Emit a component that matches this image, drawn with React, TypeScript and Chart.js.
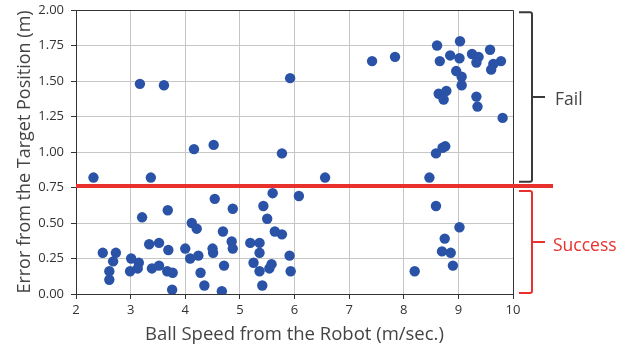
import React, { useEffect, useRef } from "react";
import { Chart, registerables } from "chart.js";

Chart.register(...registerables);

const speedValues: number[] = [
  3.17, 3.61, 4.16, 4.52, 5.77, 5.92,
  7.42, 7.84, 8.61, 9.03, 9.58, 8.66, 8.85, 9.02, 9.25, 9.37, 9.33, 9.64, 9.78, 9.60,
  8.96, 9.06, 9.06, 8.64, 8.78, 8.73, 9.33, 9.35, 9.81, 8.76, 8.71, 8.59,
  6.56, 8.47, 2.32, 3.37,
  6.08, 8.59, 9.02, 8.75, 8.70, 8.86, 8.90, 8.20, 5.77, 5.91, 5.93,
  5.60, 4.54, 5.43, 3.68, 4.87, 3.21, 5.50, 4.12, 4.21, 4.69, 5.64,
  3.34, 3.52, 4.85, 4.87, 5.19, 5.36, 5.36, 2.49, 2.73, 2.68, 2.61, 2.61,
  3.01, 2.99, 3.15, 3.13, 3.39, 3.52, 3.69, 3.67, 3.77, 3.76, 4.00, 4.09,
  4.24, 4.28, 4.35, 4.50, 4.51, 4.71, 4.67, 5.25, 5.36, 5.41, 5.54, 5.58,
];

const errorValues: number[] = [
  1.48, 1.47, 1.02, 1.05, 0.99, 1.52,
  1.64, 1.67, 1.75, 1.78, 1.72, 1.64, 1.68, 1.66, 1.69, 1.67, 1.63, 1.62, 1.64, 1.58,
  1.57, 1.53, 1.47, 1.41, 1.43, 1.37, 1.39, 1.32, 1.24, 1.04, 1.03, 0.99,
  0.82, 0.82, 0.82, 0.82,
  0.69, 0.62, 0.47, 0.39, 0.30, 0.29, 0.20, 0.16, 0.42, 0.27, 0.16,
  0.71, 0.67, 0.62, 0.59, 0.60, 0.54, 0.53, 0.50, 0.46, 0.44, 0.44,
  0.35, 0.36, 0.37, 0.32, 0.36, 0.36, 0.29, 0.29, 0.29, 0.23, 0.16, 0.10,
  0.25, 0.16, 0.22, 0.18, 0.18, 0.20, 0.31, 0.16, 0.15, 0.03, 0.32, 0.25,
  0.27, 0.15, 0.06, 0.32, 0.29, 0.20, 0.02, 0.22, 0.16, 0.06, 0.18, 0.21,
];

const thresholdValue = 0.76;
const failRange: [number, number] = [1.985, 0.79];
const successRange: [number, number] = [0.725, 0.007];
const failLabel = "Fail";
const successLabel = "Success";
const xTitle = "Ball Speed from the Robot (m/sec.)";
const yTitle = "Error from the Target Position (m)";

const FONT = "'Open Sans', 'Noto Sans', sans-serif";

const annotationPlugin = {
  id: "annotations",
  afterDraw(chart: any) {
    const { ctx, chartArea, scales } = chart;
    const y = scales.y;
    ctx.save();
    // top & right spines
    ctx.strokeStyle = "#333";
    ctx.lineWidth = 1;
    ctx.beginPath();
    ctx.moveTo(chartArea.left, chartArea.top + 0.5);
    ctx.lineTo(chartArea.right + 0.5, chartArea.top + 0.5);
    ctx.lineTo(chartArea.right + 0.5, chartArea.bottom);
    ctx.stroke();

    // threshold line
    const ty = y.getPixelForValue(thresholdValue);
    ctx.strokeStyle = "#e8302c";
    ctx.lineWidth = 4;
    ctx.beginPath();
    ctx.moveTo(chartArea.left, ty);
    ctx.lineTo(chartArea.right + 40, ty);
    ctx.stroke();

    const drawBracket = (top: number, bottom: number, color: string) => {
      const x0 = chartArea.right + 6;
      const x1 = chartArea.right + 19;
      const tip = chartArea.right + 32;
      const t = y.getPixelForValue(top);
      const b = y.getPixelForValue(bottom);
      const m = (t + b) / 2;
      ctx.strokeStyle = color;
      ctx.lineWidth = 2;
      ctx.lineJoin = "round";
      ctx.beginPath();
      ctx.moveTo(x0, t);
      ctx.lineTo(x1 - 2, t);
      ctx.quadraticCurveTo(x1, t, x1, t + 2);
      ctx.lineTo(x1, b - 2);
      ctx.quadraticCurveTo(x1, b, x1 - 2, b);
      ctx.lineTo(x0, b);
      ctx.stroke();
      ctx.beginPath();
      ctx.moveTo(x1, m);
      ctx.lineTo(tip, m);
      ctx.stroke();
      return m;
    };

    const fm = drawBracket(failRange[0], failRange[1], "#3a3a3a");
    const sm = drawBracket(successRange[0], successRange[1], "#e8302c");

    ctx.font = `17.5px ${FONT}`;
    ctx.textBaseline = "middle";
    ctx.textAlign = "left";
    ctx.fillStyle = "#444";
    ctx.fillText(failLabel, chartArea.right + 42, fm + 3);
    ctx.fillStyle = "#e8302c";
    ctx.fillText(successLabel, chartArea.right + 40, sm + 4);
    ctx.restore();
  },
};

export default function App() {
  const canvasRef = useRef<HTMLCanvasElement | null>(null);

  useEffect(() => {
    document.body.style.margin = "0";
    const canvas = canvasRef.current;
    if (!canvas) return;
    const points = speedValues.map((x, i) => ({ x, y: errorValues[i] }));
    const chart = new Chart(canvas, {
      type: "scatter",
      data: {
        datasets: [
          {
            data: points,
            backgroundColor: "#2a52a6",
            borderColor: "#2a52a6",
            pointRadius: 5.2,
            pointBorderWidth: 0,
          },
        ],
      },
      options: {
        animation: false,
        responsive: false,
        layout: { padding: { left: 0, top: 10, right: 121, bottom: 0 } },
        plugins: { legend: { display: false }, tooltip: { enabled: false } },
        scales: {
          x: {
            type: "linear",
            min: 2,
            max: 10,
            afterFit: (s: any) => {
              s.height = 53;
            },
            ticks: { stepSize: 1, color: "#333", font: { family: FONT, size: 13 }, padding: 3 },
            grid: { color: "#c6c6c6", tickColor: "#333", tickLength: 5 },
            border: { color: "#333", width: 1 },
            title: {
              display: true,
              text: xTitle,
              color: "#444",
              font: { family: FONT, size: 18.5 },
              padding: { top: 0, bottom: 1 },
            },
          },
          y: {
            type: "linear",
            min: 0,
            max: 2,
            afterFit: (s: any) => {
              s.width = 76;
              s.paddingTop = 0;
              s.paddingBottom = 0;
            },
            ticks: {
              stepSize: 0.25,
              color: "#333",
              font: { family: FONT, size: 13 },
              padding: 7,
              callback: (v: any) => Number(v).toFixed(2),
            },
            grid: { color: "#c6c6c6", tickColor: "#333", tickLength: 5 },
            border: { color: "#333", width: 1 },
            title: {
              display: true,
              text: yTitle,
              color: "#444",
              font: { family: FONT, size: 18 },
              padding: { top: 14, bottom: 0 },
            },
          },
        },
      },
      plugins: [annotationPlugin],
    });
    return () => chart.destroy();
  }, []);

  return <canvas ref={canvasRef} width={634} height={347} style={{ display: "block" }} />;
}
